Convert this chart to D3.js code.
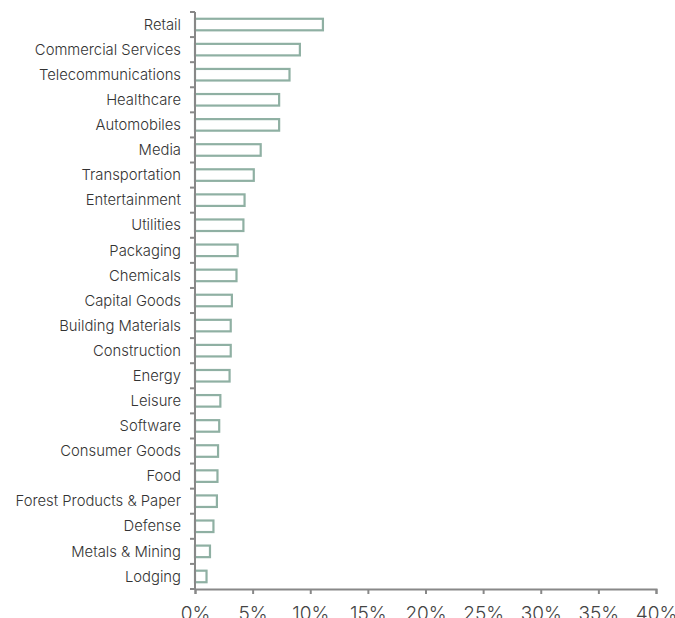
<!DOCTYPE html>
<html>
<head>
<meta charset="utf-8">
<script src="https://cdn.jsdelivr.net/npm/d3@7"></script>
<style>
  html, body { margin: 0; padding: 0; background: #fff; }
  svg { display: block; }
  .cat text { font-family: Inter, "Open Sans", sans-serif; font-weight: 300; font-size: 14.8px; fill: #333; }
  .val text { font-family: Inter, "Open Sans", sans-serif; font-weight: 300; }
</style>
</head>
<body>
<svg id="chart" width="675" height="618"></svg>
<script>
// Industry sectors, largest first
const sectors = [
  "Retail", "Commercial Services", "Telecommunications", "Healthcare", "Automobiles",
  "Media", "Transportation", "Entertainment", "Utilities", "Packaging", "Chemicals",
  "Capital Goods", "Building Materials", "Construction", "Energy", "Leisure",
  "Software", "Consumer Goods", "Food", "Forest Products & Paper", "Defense",
  "Metals & Mining", "Lodging"
];
// Share of total, in percent
const shares = [
  11.1, 9.1, 8.2, 7.3, 7.3,
  5.7, 5.1, 4.3, 4.2, 3.7, 3.6,
  3.2, 3.1, 3.1, 3.0, 2.2,
  2.1, 2.0, 1.95, 1.9, 1.6,
  1.3, 1.0
];
// Axis ticks, in percent
const pctTicks = [0, 5, 10, 15, 20, 25, 30, 35, 40];

const svg = d3.select("#chart");
const plot = { left: 195, right: 656, top: 12, bottom: 589 };

const x = d3.scaleLinear().domain([0, 40]).range([plot.left, plot.right]);
const y = d3.scaleBand().domain(sectors).range([plot.top, plot.bottom]).paddingInner(0.54).paddingOuter(0.27);
const band = d3.scaleBand().domain(sectors).range([plot.top, plot.bottom]);

// Bars: outlined, white fill
svg.append("g")
  .selectAll("rect")
  .data(sectors)
  .join("rect")
  .attr("x", x(0))
  .attr("y", d => y(d))
  .attr("width", (d, i) => x(shares[i]) - x(0))
  .attr("height", y.bandwidth())
  .attr("fill", "#fff")
  .attr("stroke", "#8fb0a3")
  .attr("stroke-width", 2.2);

// Category axis: ticks at band boundaries, labels centred in each band
const yAxis = svg.append("g").attr("class", "cat");
yAxis.append("line")
  .attr("x1", plot.left).attr("x2", plot.left)
  .attr("y1", plot.top).attr("y2", plot.bottom)
  .attr("stroke", "#888").attr("stroke-width", 2);
const bounds = sectors.map(d => band(d)).concat([plot.bottom]);
yAxis.selectAll("line.tk")
  .data(bounds)
  .join("line")
  .attr("class", "tk")
  .attr("x1", plot.left - 5).attr("x2", plot.left)
  .attr("y1", d => d).attr("y2", d => d)
  .attr("stroke", "#888").attr("stroke-width", 2);
yAxis.selectAll("text")
  .data(sectors)
  .join("text")
  .attr("x", plot.left - 14)
  .attr("y", d => band(d) + band.bandwidth() / 2)
  .attr("dy", "0.35em")
  .attr("text-anchor", "end")
  .text(d => d);

// Value axis along the bottom
const xAxis = d3.axisBottom(x)
  .tickValues(pctTicks)
  .tickSize(5)
  .tickPadding(13)
  .tickFormat(d => d + "%");
const gx = svg.append("g")
  .attr("class", "val")
  .attr("transform", `translate(0,${plot.bottom})`)
  .call(xAxis);
gx.select(".domain").attr("stroke", "#888").attr("stroke-width", 2);
gx.selectAll(".tick line").attr("stroke", "#888").attr("stroke-width", 2);
gx.selectAll(".tick text")
  .attr("fill", "#444")
  .style("font-family", "Inter, 'Open Sans', sans-serif")
  .style("font-weight", 300)
  .style("font-size", "19px");
</script>
</body>
</html>
